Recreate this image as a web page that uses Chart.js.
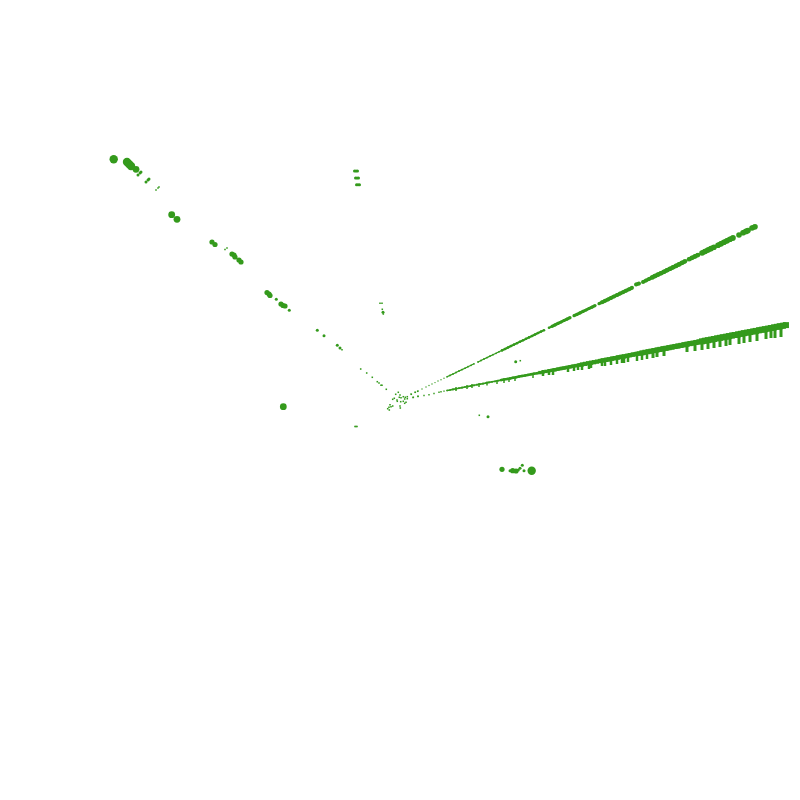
<!DOCTYPE html>
<html><head><meta charset="utf-8">
<style>html,body{margin:0;padding:0;background:#fff}canvas{display:block}</style>
<script src="https://cdn.jsdelivr.net/npm/chart.js@4"></script></head>
<body><canvas id="c" width="800" height="800"></canvas>
<script>
const upperX=[411,415,418,422,426,429,432,435,438,441,444,447,450,453,456,459,462,465,468,471,474,478,481,484,487,490,493,496,499,502,505,508,511,514,517,520,523,526,529,532,535,538,541,544,549,552,555,558,561,564,567,570,574,577,580,583,586,589,592,595,599,602,605,608,611,614,617,620,623,626,629,632,636,639,643,646,649,652,655,658,661,664,667,670,673,676,679,682,685,689,692,695,698,702,705,708,711,714,718,721,724,727,730,733,739,743,746,748,752,755];
const upperY=[394,392.3,391,389,387,385.5,384,382.6,381,379.7,378.3,376.8,375.4,374,372.5,371,369.6,368.2,366.7,365.3,363.8,362,360.5,359,357.6,356.1,354.7,353.3,351.8,350.4,349,347.5,346,344.6,343.2,341.7,340.3,338.8,337.4,336,334.5,333,331.6,330.2,327.8,326.3,324.9,323.4,322,320.5,319.1,317.7,315.7,314.3,312.9,311.4,310,308.5,307.1,305.6,303.7,302.3,300.8,299.4,297.9,296.5,295,293.6,292.2,290.7,289.3,287.8,284.5,283.5,282,280.5,279,277.5,276,274.6,273.2,271.8,270.2,268.8,267.3,265.9,264.4,262.8,261.3,259.3,257.8,256.4,255,253,251.5,250,248.6,247.2,245.2,243.7,242.2,240.8,239.3,237.9,235,232.8,231.4,230.6,228,226.8];
const lowerX=[413,418,424,429,434,439,441,444,447,450,453,456,459,462,465,468,471,474,477,480,483,486,489,492,495,498,501,504,507,510,513,516,519,522,525,528,531,534,537,540,543,546,549,552,555,558,561,564,567,570,573,576,579,582,585,588,591,594,597,600,603,606,609,612,615,618,621,624,627,630,633,636,639,642,645,648,651,654,657,660,663,666,669,672,675,678,681,684,687,690,693,696,699,702,705,708,711,714,717,720,723,726,729,732,735,738,741,744,747,750,753,756,759,762,765,768,771,774,777,780,783,786];
const lowerY=[397.5,396.5,395.5,394.8,393.5,392.3,391.7,391.1,390.5,390,389.4,388.8,388.2,387.6,387,386.5,385.9,385.3,384.7,384.2,383.6,383,382.4,381.8,381.3,380.7,380.1,379.5,379,378.4,377.8,377.2,376.6,376,375.5,374.9,374.3,373.7,373.2,372.6,372,371.4,370.8,370.3,369.7,369.1,368.5,368,367.4,366.8,366.2,365.6,365,364.5,363.9,363.3,362.7,362.2,361.6,361,360.4,359.8,359.3,358.7,358.1,357.5,356.9,356.4,355.8,355.2,354.6,354,353.5,352.9,352.3,351.7,351.2,350.6,350,349.4,348.8,348.3,347.7,347.1,346.5,346,345.4,344.8,344.2,343.6,343.1,342.5,341.9,341.3,340.7,340.2,339.6,339,338.4,337.8,337.3,336.7,336.1,335.5,335,334.4,333.8,333.2,332.6,332.1,331.5,330.9,330.3,329.7,329.2,328.6,328,327.4,326.8,326.3,325.7,325.1];
const shortTickX=[456,467,472,479,487,497,504,509,515,533];
const shortTickY=[389,387,386,385,383.5,382,381,380,379,376];
const midTickX=[543,549,553,568,574,578,582,589,591,602,605,611,617,622,624,628,637,642,647];
const midTickY=[373,372,372,369,368,367,367,366,365,363,363,362,361,360,360,359,358,357,356];
const longTickX=[653,657,664,687,695,702,708,714,720,726,730,739,744,750,757,766,771,775,781];
const longTickY=[353.5,352.5,351.5,347.5,346.5,345.5,344.5,343.5,342.5,341.5,340.5,339.5,338.5,337.5,336.5,334.5,333.5,333.5,332.5];
const largeX=[113.7,127,129,131,531.7];
const largeY=[159.3,162,164,166,470.7];
const blobX=[171.7,177,283.3,136];
const blobY=[214.7,219.3,406.7,169.3];
const mediumX=[212,215,232,234,235,239,241,267,269,270,281,283,285,502,512.7,516];
const mediumY=[242,244.5,254,255,257,260,262,292.5,294,295.5,304,305.5,306,469.3,470.7,471];
const smallX=[138,140,141,146,148,149,276.3,289.3,317.3,324,337.3,340,488,510,518.3,520,522.3,524,515.7,354.5,356,357.5,355.5,357,358.5,356.5,358,359.5,383];
const smallY=[175,173,172,182,180,179,299.3,310.3,330.3,335.7,345.3,348,416.7,470.7,470,468.3,465.3,470.7,361.7,171,171,171,178,178,178,184.7,184.7,184.7,312.3];
const tinyX=[156,158,159,225,227,342,360.7,366.7,372.3,377.3,379,381,382,386.3,479.3,520.3,355,356,357,380,382,382.3,383.3,395.7,398.3,400,394.3,392.7,397,399.3,401,403.3,405.3,407.3,407.3,404.7,400.7,397.3,403.3,406,404.7,390,389,387.7,389.3,391,392.7,400,400.3,411.3,413.3,415.3,417.7,418];
const tinyY=[190,188,187,249.5,248,349.7,369,373,377.3,381.7,383,385.3,385.3,389.3,415.3,360.7,426.5,426.5,426.5,303.3,303.3,309.3,314,394.3,392.3,395,398.3,399.3,400,397.3,397.7,396.7,397.3,396.7,398.7,399,401.7,401.3,401.3,402.3,403.3,404.7,407.3,408.7,410,406.7,406,406,408,394.3,397.3,392.3,391.3,396.3];

const green='#349a1c';
const pts=(xs,ys)=>xs.map((x,i)=>({x,y:ys[i]}));
function ramp(stops){return ctx=>{const x=ctx.raw?ctx.raw.x:0;for(const [lim,r] of stops){if(x<lim)return r;}return stops[stops.length-1][1];};}
function stepOf(stops,x){for(const [lim,r] of stops){if(x<lim)return r;}return stops[stops.length-1][1];}
// Continuous stretches of a ray are joined; a jump of more than 3.5 px along x stays a gap.
function rayLine(stops){return {
  borderWidth:ctx=>stepOf(stops,ctx.p0.parsed.x),
  borderColor:ctx=>(ctx.p1.parsed.x-ctx.p0.parsed.x>3.5||ctx.p0.parsed.x<445)?'rgba(0,0,0,0)':green
};}
const base={backgroundColor:green,borderWidth:0,showLine:false};
const ray={backgroundColor:green,borderColor:green,borderWidth:1,pointBorderWidth:0,showLine:true,tension:0};
const tick={pointStyle:'line',pointRotation:90,borderColor:green,backgroundColor:green,showLine:false};
new Chart(document.getElementById('c'),{type:'scatter',data:{datasets:[
{...ray,data:pts(upperX,upperY),pointStyle:'circle',pointRadius:ramp([[445,0.7],[500,0.9],[550,1.3],[600,1.6],[650,2],[700,2.3],[800,2.8]]),
 segment:rayLine([[500,1.2],[550,2],[600,3],[650,3.6],[700,4.2],[800,5]])},
{...ray,data:pts(lowerX,lowerY),pointStyle:'rect',pointRadius:ramp([[445,1],[500,1.2],[540,1.6],[580,2.4],[640,3],[700,3.6],[800,4.2]]),
 segment:rayLine([[500,1.6],[550,2.5],[600,3.5],[650,4.4],[700,5],[800,6]])},
{...tick,data:pts(shortTickX,shortTickY),pointRadius:2,borderWidth:1.5},
{...tick,data:pts(midTickX,midTickY),pointRadius:3,borderWidth:2.5},
{...tick,data:pts(longTickX,longTickY),pointRadius:4.5,borderWidth:3},
{...base,data:pts(largeX,largeY),pointStyle:'circle',pointRadius:4.2},
{...base,data:pts(blobX,blobY),pointStyle:'circle',pointRadius:3.4},
{...base,data:pts(mediumX,mediumY),pointStyle:'circle',pointRadius:2.6},
{...base,data:pts(smallX,smallY),pointStyle:'circle',pointRadius:1.5},
{...base,data:pts(tinyX,tinyY),pointStyle:'rect',pointRadius:1.1}
]},options:{responsive:false,animation:false,devicePixelRatio:1,
layout:{padding:0,autoPadding:false},
plugins:{legend:{display:false},tooltip:{enabled:false},title:{display:false}},
scales:{x:{type:'linear',min:0,max:800,display:false},y:{type:'linear',min:0,max:800,reverse:true,display:false}}}});
</script></body></html>
